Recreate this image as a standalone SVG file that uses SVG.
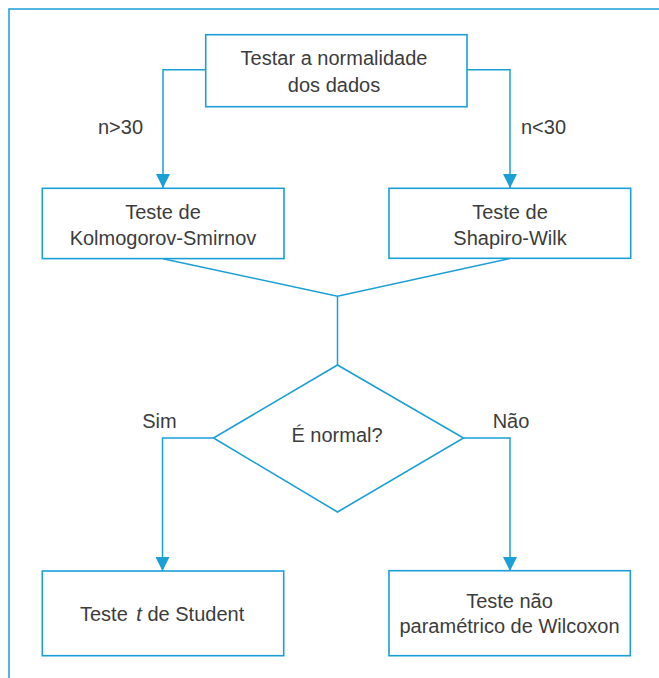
<svg xmlns="http://www.w3.org/2000/svg" width="659" height="678" viewBox="0 0 659 678">
  <defs>
    <style>
      .box { fill: #ffffff; stroke: #1a9fd7; stroke-width: 1.6; }
      .line { fill: none; stroke: #1a9fd7; stroke-width: 1.5; }
      .frame { fill: none; stroke: #1a9fd7; stroke-width: 1.5; }
      text { font-family: "Liberation Sans", Arial, sans-serif; font-size: 20px; fill: #3c3c3c; }
      .c { text-anchor: middle; }
    </style>
    <marker id="arrow" markerUnits="userSpaceOnUse" markerWidth="14" markerHeight="14" viewBox="0 0 12 12" refX="12" refY="6" orient="auto">
      <path d="M0,0 L12,6 L0,12 Z" fill="#1a9fd7"/>
    </marker>
  </defs>
  <rect width="659" height="678" fill="#ffffff"/>
  <path class="frame" d="M9,678 V9 H659"/>

  <g id="connectors">
    <path class="line" d="M205.7,69.7 H163 V188" marker-end="url(#arrow)"/>
    <path class="line" d="M467,69.7 H510 V188" marker-end="url(#arrow)"/>
    <path class="line" d="M163,258.7 L337.5,296.3 L510,258.5"/>
    <path class="line" d="M337.5,296.3 V365"/>
    <path class="line" d="M213.5,438 H162.5 V571" marker-end="url(#arrow)"/>
    <path class="line" d="M463.5,438 H510 V571" marker-end="url(#arrow)"/>
    <text class="c" x="120.5" y="134">n&gt;30</text>
    <text class="c" x="543.5" y="134">n&lt;30</text>
    <text class="c" x="159.5" y="427.7">Sim</text>
    <text class="c" x="511" y="427.7">Não</text>
  </g>

  <g id="start">
    <rect class="box" x="205.7" y="34.7" width="261.3" height="72"/>
    <text class="c" x="334" y="65">Testar a normalidade</text>
    <text class="c" x="334" y="91.7">dos dados</text>
  </g>

  <g id="ks">
    <rect class="box" x="42.3" y="188.3" width="241.7" height="70.3"/>
    <text class="c" x="163" y="219">Teste de</text>
    <text class="c" x="163" y="245">Kolmogorov-Smirnov</text>
  </g>

  <g id="sw">
    <rect class="box" x="389" y="188.3" width="241.7" height="70"/>
    <text class="c" x="510" y="219">Teste de</text>
    <text class="c" x="510" y="245">Shapiro-Wilk</text>
  </g>

  <g id="decision">
    <polygon class="box" points="337.5,365 463.5,438 337.5,512 213.5,438"/>
    <text class="c" x="337" y="442">É normal?</text>
  </g>

  <g id="ttest">
    <rect class="box" x="42.3" y="571" width="241.4" height="84.7"/>
    <text x="80" y="620.7">Teste <tspan font-style="italic" dx="3">t</tspan> de Student</text>
  </g>

  <g id="wilcoxon">
    <rect class="box" x="389" y="570.7" width="241.3" height="85"/>
    <text class="c" x="509.5" y="608.3">Teste não</text>
    <text class="c" x="509.5" y="633.3">paramétrico de Wilcoxon</text>
  </g>
</svg>
